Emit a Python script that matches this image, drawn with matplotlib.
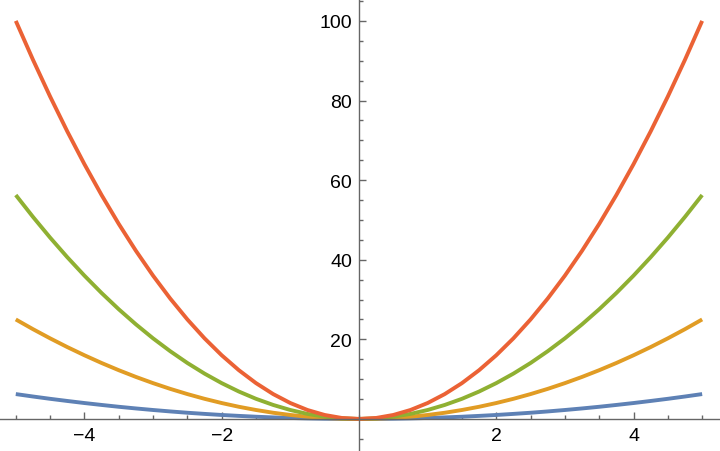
import matplotlib.pyplot as plt
from matplotlib.ticker import MultipleLocator, FixedLocator

# values every quarter unit of x, left half (x = -5 .. 0);
# the curves are symmetric, so the right half is the mirror image
x_left = [-5, -4.75, -4.5, -4.25, -4, -3.75, -3.5, -3.25, -3, -2.75, -2.5,
          -2.25, -2, -1.75, -1.5, -1.25, -1, -0.75, -0.5, -0.25, 0]
blue_left = [6.25, 5.64, 5.06, 4.52, 4, 3.52, 3.06, 2.64, 2.25, 1.89, 1.56,
             1.27, 1, 0.77, 0.56, 0.39, 0.25, 0.14, 0.06, 0.02, 0]
orange_left = [25, 22.56, 20.25, 18.06, 16, 14.06, 12.25, 10.56, 9, 7.56, 6.25,
               5.06, 4, 3.06, 2.25, 1.56, 1, 0.56, 0.25, 0.06, 0]
green_left = [56.25, 50.77, 45.56, 40.64, 36, 31.64, 27.56, 23.77, 20.25, 17.02, 14.06,
              11.39, 9, 6.89, 5.06, 3.52, 2.25, 1.27, 0.56, 0.14, 0]
red_left = [100, 90.25, 81, 72.25, 64, 56.25, 49, 42.25, 36, 30.25, 25,
            20.25, 16, 12.25, 9, 6.25, 4, 2.25, 1, 0.25, 0]

x_vals = x_left + [-v for v in x_left[-2::-1]]
blue = blue_left + blue_left[-2::-1]
orange = orange_left + orange_left[-2::-1]
green = green_left + green_left[-2::-1]
red = red_left + red_left[-2::-1]

series = [blue, orange, green, red]
colors = ['#5E81B5', '#E19C24', '#8FB032', '#EB6235']

x_labels = [-4, -2, 2, 4]
y_labels = [20, 40, 60, 80, 100]

axis_color = '#666666'

fig = plt.figure(figsize=(7.2, 4.52), dpi=100)
ax = fig.add_axes([0, 0, 1, 1])

for ys, c in zip(series, colors):
    ax.plot(x_vals, ys, color=c, lw=2.8, solid_capstyle='butt',
            solid_joinstyle='round')

ax.set_xlim(-5.23, 5.26)
ax.set_ylim(-8.05, 105.5)

for side in ['top', 'right']:
    ax.spines[side].set_visible(False)
for side in ['left', 'bottom']:
    ax.spines[side].set_position(('data', 0))
    ax.spines[side].set_color(axis_color)
    ax.spines[side].set_linewidth(1.0)

ax.xaxis.set_major_locator(FixedLocator(x_labels))
ax.xaxis.set_minor_locator(MultipleLocator(0.5))
ax.yaxis.set_major_locator(FixedLocator(y_labels))
ax.yaxis.set_minor_locator(MultipleLocator(5))
ax.set_xticklabels(['\u2212' + str(-v) if v < 0 else str(v) for v in x_labels])
ax.set_yticklabels([str(v) for v in y_labels])

ax.tick_params(which='both', direction='in', color=axis_color, width=1.0)
ax.tick_params(which='major', length=5, labelsize=14, labelcolor='black')
ax.tick_params(which='minor', length=3)
ax.tick_params(axis='x', which='major', pad=6)
ax.tick_params(axis='y', which='major', pad=5)
for lab in ax.get_xticklabels() + ax.get_yticklabels():
    lab.set_fontfamily('Liberation Sans')

fig.savefig('out.png', dpi=100)
plt.close('all')
